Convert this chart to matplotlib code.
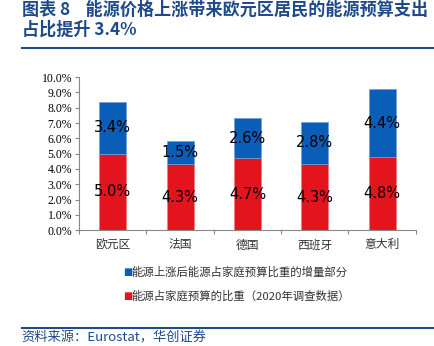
import matplotlib
matplotlib.use("Agg")
import matplotlib.pyplot as plt
from matplotlib.ticker import FuncFormatter, MultipleLocator
from matplotlib.lines import Line2D

plt.rcParams['font.family'] = ['Noto Sans CJK SC', 'DejaVu Sans']

countries = ['欧元区', '法国', '德国', '西班牙', '意大利']
base_share = [5.0, 4.3, 4.7, 4.3, 4.8]      # 能源占家庭预算的比重（2020年）
increase = [3.4, 1.5, 2.6, 2.8, 4.4]        # 能源上涨后的增量部分

label_base = '能源占家庭预算的比重（2020年调查数据）'
label_inc = '能源上涨后能源占家庭预算比重的增量部分'
title_1 = '图表 8    能源价格上涨带来欧元区居民的能源预算支出'
title_2 = '占比提升 3.4%'
source = '资料来源：Eurostat，华创证券'

RED = '#E3141E'
BLUE = '#0A5EB8'
NAVY = '#1F4A8A'

fig = plt.figure(figsize=(4.35, 3.46), dpi=100)
ax = fig.add_axes([0.1816, 0.335, 0.956 - 0.1816, 0.777 - 0.335])

x = list(range(len(countries)))
ax.bar(x, base_share, width=0.4, color=RED, edgecolor='#F08080', linewidth=0.5)
ax.bar(x, increase, width=0.4, bottom=base_share, color=BLUE,
       edgecolor='#6F9FD8', linewidth=0.5)

for i in x:
    ax.text(i, base_share[i] / 2, f'{base_share[i]:.1f}%', ha='center', va='center',
            fontsize=10.5, family='DejaVu Sans', color='black')
    ax.text(i, base_share[i] + increase[i] / 2, f'{increase[i]:.1f}%', ha='center',
            va='center', fontsize=10.5, family='DejaVu Sans', color='black')

ax.set_xlim(-0.5, len(countries) - 0.5)
ax.set_ylim(0, 10)
ax.yaxis.set_major_locator(MultipleLocator(1))
ax.yaxis.set_major_formatter(FuncFormatter(lambda v, p: f'{v:.1f}%'))
for lab in ax.get_yticklabels():
    lab.set_family('Liberation Serif')
ax.tick_params(axis='y', labelsize=8.5, length=3, width=0.8, color='#888888', pad=2)

ax.set_xticks(x)
ax.set_xticklabels(countries, fontsize=8.5, color='#333333')
ax.set_xticks([i + 0.5 for i in range(-1, len(countries))], minor=True)
ax.tick_params(axis='x', which='major', length=0, pad=6)
ax.tick_params(axis='x', which='minor', length=3, width=0.8, color='#888888')

for s in ['top', 'right']:
    ax.spines[s].set_visible(False)
for s in ['left', 'bottom']:
    ax.spines[s].set_color('#888888')
    ax.spines[s].set_linewidth(0.8)

# legend drawn as two rows under the axes
fig.text(0.283, 1 - 272 / 346, '■', color=BLUE, fontsize=7, va='center', family='DejaVu Sans')
fig.text(0.302, 1 - 272 / 346, label_inc, fontsize=8.2, va='center', color='#333333')
fig.text(0.283, 1 - 296 / 346, '■', color=RED, fontsize=7, va='center', family='DejaVu Sans')
fig.text(0.302, 1 - 296 / 346, label_base, fontsize=8.2, va='center', color='#333333')

fig.text(0.05, 1 - 10 / 346, title_1, fontsize=12.3, fontweight='bold', color=NAVY, va='center')
fig.text(0.05, 1 - 30 / 346, title_2, fontsize=12.3, fontweight='bold', color=NAVY, va='center')
fig.add_artist(Line2D([0.05, 1.0], [1 - 48 / 346, 1 - 48 / 346], color=NAVY, linewidth=1.5))
fig.add_artist(Line2D([0.05, 1.0], [1 - 328 / 346, 1 - 328 / 346], color=NAVY, linewidth=1.5))
fig.text(0.05, 1 - 338 / 346, source, fontsize=9.5, style='italic', color=NAVY, va='center')

fig.savefig('out.png', dpi=100)
